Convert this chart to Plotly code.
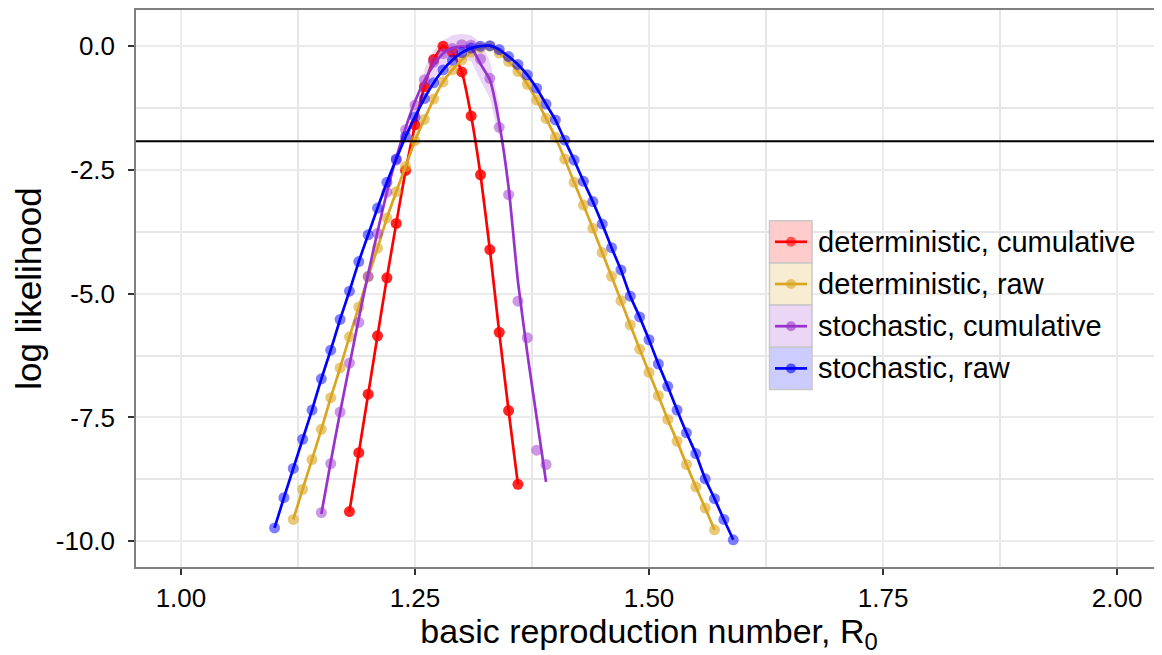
import plotly.graph_objects as go

# ---------------- data ----------------
series_names = ["deterministic, cumulative", "deterministic, raw",
                "stochastic, cumulative", "stochastic, raw"]
series_colors = ["#FF0000", "#DAA520", "#9932CC", "#0000FF"]
key_fills = ["#FFCCCC", "#F8EDD2", "#EBD6F5", "#CCCCFF"]

det_cum_x = [1.18, 1.19, 1.20, 1.21, 1.22, 1.23, 1.24, 1.25, 1.26, 1.27,
             1.28, 1.29, 1.30, 1.31, 1.32, 1.33, 1.34, 1.35, 1.36]
det_cum_y = [-9.40, -8.21, -7.03, -5.85, -4.68, -3.58, -2.51, -1.59, -0.82, -0.27,
             0.00, -0.12, -0.52, -1.41, -2.60, -4.11, -5.78, -7.36, -8.85]

det_raw_x = [1.12, 1.13, 1.14, 1.15, 1.16, 1.17, 1.18, 1.19, 1.20, 1.21,
             1.22, 1.23, 1.24, 1.25, 1.26, 1.27, 1.28, 1.29, 1.30, 1.31,
             1.32, 1.33, 1.34, 1.35, 1.36, 1.37, 1.38, 1.39, 1.40, 1.41,
             1.42, 1.43, 1.44, 1.45, 1.46, 1.47, 1.48, 1.49, 1.50, 1.51,
             1.52, 1.53, 1.54, 1.55, 1.56, 1.57]
det_raw_y = [-9.56, -8.95, -8.35, -7.74, -7.10, -6.50, -5.87, -5.27, -4.66, -4.08,
             -3.47, -2.94, -2.43, -1.91, -1.48, -1.07, -0.72, -0.48, -0.28, -0.12,
             -0.03, 0.00, -0.14, -0.31, -0.51, -0.77, -1.09, -1.46, -1.84, -2.28,
             -2.75, -3.21, -3.68, -4.17, -4.65, -5.14, -5.63, -6.12, -6.59, -7.06,
             -7.54, -7.98, -8.45, -8.90, -9.33, -9.77]

sto_cum_x = [1.15, 1.16, 1.17, 1.18, 1.19, 1.20, 1.21, 1.22, 1.23, 1.24,
             1.25, 1.26, 1.27, 1.28, 1.29, 1.30, 1.31, 1.32, 1.33, 1.34,
             1.35, 1.36, 1.37, 1.38, 1.39]
sto_cum_y = [-9.42, -8.43, -7.39, -6.40, -5.58, -4.65, -3.78, -2.95, -2.30, -1.69,
             -1.19, -0.68, -0.32, -0.15, -0.05, 0.03, 0.02, -0.26, -0.65, -1.64,
             -3.00, -5.15, -5.89, -8.16, -8.45]
# smoothed fit for the stochastic cumulative series
sto_cum_fit = [-9.45, -8.40, -7.40, -6.45, -5.50, -4.60, -3.75, -2.95, -2.25, -1.65,
               -1.12, -0.70, -0.38, -0.15, -0.04, -0.01, -0.03, -0.36, -0.68, -1.55,
               -2.85, -4.75, -6.20, -7.50, -8.80]
sto_cum_band_x = [1.26, 1.27, 1.28, 1.29, 1.30, 1.31, 1.32, 1.33, 1.34]
sto_cum_band_hi = [-0.45, -0.10, 0.12, 0.22, 0.25, 0.22, 0.08, -0.30, -1.20]
sto_cum_band_lo = [-0.95, -0.65, -0.42, -0.30, -0.27, -0.30, -0.70, -1.05, -1.85]

sto_raw_x = [1.10, 1.11, 1.12, 1.13, 1.14, 1.15, 1.16, 1.17, 1.18, 1.19,
             1.20, 1.21, 1.22, 1.23, 1.24, 1.25, 1.26, 1.27, 1.28, 1.29,
             1.30, 1.31, 1.32, 1.33, 1.34, 1.35, 1.36, 1.37, 1.38, 1.39,
             1.40, 1.41, 1.42, 1.43, 1.44, 1.45, 1.46, 1.47, 1.48, 1.49,
             1.50, 1.51, 1.52, 1.53, 1.54, 1.55, 1.56, 1.57, 1.58, 1.59]
sto_raw_y = [-9.73, -9.12, -8.53, -7.94, -7.35, -6.72, -6.14, -5.52, -4.95, -4.35,
             -3.81, -3.27, -2.75, -2.28, -1.83, -1.43, -1.06, -0.74, -0.48, -0.28,
             -0.13, -0.04, 0.00, 0.01, -0.07, -0.21, -0.37, -0.58, -0.85, -1.17,
             -1.49, -1.90, -2.30, -2.73, -3.14, -3.59, -4.07, -4.52, -5.05, -5.47,
             -5.93, -6.42, -6.87, -7.35, -7.81, -8.23, -8.74, -9.14, -9.56, -9.97]

cutoff = -1.92

x_ticks = [1.00, 1.25, 1.50, 1.75, 2.00]
x_tick_text = ["1.00", "1.25", "1.50", "1.75", "2.00"]
y_ticks = [-10.0, -7.5, -5.0, -2.5, 0.0]
y_tick_text = ["-10.0", "-7.5", "-5.0", "-2.5", "0.0"]

# ---------------- figure ----------------
FONT = "Liberation Sans, Arial, Helvetica, sans-serif"
OFF = 8                      # default page body margin of the html page
W, H = 1162 - OFF, 655 - OFF
ML, MR, MT, MB = 136 - OFF, 0, 10 - OFF, 88
PW, PH = W - ML - MR, H - MT - MB

fig = go.Figure()

# ribbon for stochastic cumulative
fig.add_trace(go.Scatter(
    x=sto_cum_band_x + sto_cum_band_x[::-1],
    y=sto_cum_band_hi + sto_cum_band_lo[::-1],
    fill="toself", fillcolor="rgba(153,50,204,0.2)",
    line=dict(width=0), mode="lines", hoverinfo="skip", showlegend=False))

line_sets = [
    (det_cum_x, det_cum_y, det_cum_y, 0.85),
    (det_raw_x, det_raw_y, det_raw_y, 0.6),
    (sto_cum_x, sto_cum_y, sto_cum_fit, 0.5),
    (sto_raw_x, sto_raw_y, sto_raw_y, 0.5),
]
for (xs, ys, fit, op), name, col in zip(line_sets, series_names, series_colors):
    fig.add_trace(go.Scatter(x=xs, y=ys, mode="markers", name=name,
                             marker=dict(color=col, size=11, opacity=op, line=dict(width=0)),
                             showlegend=False))
    fig.add_trace(go.Scatter(x=xs, y=fit, mode="lines", name=name,
                             line=dict(color=col, width=2.7, shape="spline", smoothing=0.5),
                             showlegend=False))

fig.add_hline(y=cutoff, line=dict(color="black", width=2))

# ---------------- manual legend (ggplot style) ----------------
# positions given in screen pixels of the 1162x655 page
def px2x(px):
    return (px - OFF - ML) / PW

def px2y(py):
    return (H - MB - (py - OFF)) / PH

shapes = [dict(type="rect", xref="paper", yref="paper",
               x0=px2x(760), x1=px2x(1162), y0=px2y(398), y1=px2y(176),
               fillcolor="white", line=dict(width=0), layer="above")]
key_top = 220.7
key_h = 42.2
for i, (name, col, fill) in enumerate(zip(series_names, series_colors, key_fills)):
    t = key_top + i * key_h
    b = t + key_h
    cy = (t + b) / 2
    shapes.append(dict(type="rect", xref="paper", yref="paper",
                       x0=px2x(769.5), x1=px2x(812), y0=px2y(b), y1=px2y(t),
                       fillcolor=fill, line=dict(color="#C8C8C8", width=1.5), layer="above"))
    shapes.append(dict(type="line", xref="paper", yref="paper",
                       x0=px2x(775), x1=px2x(807), y0=px2y(cy), y1=px2y(cy),
                       line=dict(color=col, width=2.7), layer="above"))
    shapes.append(dict(type="circle", xref="paper", yref="paper",
                       x0=px2x(786), x1=px2x(796), y0=px2y(cy + 5), y1=px2y(cy - 5),
                       fillcolor=col, opacity=0.6, line=dict(width=0), layer="above"))
    fig.add_annotation(x=px2x(816), y=px2y(cy), xref="paper", yref="paper",
                       text=name, showarrow=False, xanchor="left", yanchor="middle",
                       font=dict(family=FONT, size=29, color="black"))

axis_common = dict(
    showline=True, mirror=True, linecolor="#7F7F7F", linewidth=1.5,
    ticks="outside", ticklen=6, tickwidth=1.5, tickcolor="#333333",
    showgrid=True, gridcolor="#EBEBEB", gridwidth=1.5, zeroline=False,
    tickfont=dict(family=FONT, size=26, color="black"),
    automargin=False,
)

fig.update_layout(
    width=W, height=H,
    margin=dict(l=ML, r=MR, t=MT, b=MB),
    paper_bgcolor="white", plot_bgcolor="white",
    font=dict(family=FONT, color="black"),
    shapes=shapes,
    showlegend=False,
    xaxis=dict(range=[0.952, 2.048], tickvals=x_ticks, ticktext=x_tick_text,
               minor=dict(dtick=0.125, tick0=1.0, showgrid=True, gridcolor="#E6E6E6",
                          gridwidth=2.4, ticks=""),
               title=dict(text="basic reproduction number, R<sub>0</sub>",
                          font=dict(family=FONT, size=34, color="black"), standoff=9),
               ticklabelstandoff=1,
               **axis_common),
    yaxis=dict(range=[-10.52, 0.73], tickvals=y_ticks, ticktext=y_tick_text,
               minor=dict(dtick=1.25, tick0=0.0, showgrid=True, gridcolor="#E6E6E6",
                          gridwidth=2.4, ticks=""),
               title=dict(text="log likelihood",
                          font=dict(family=FONT, size=35, color="black"), standoff=4),
               ticklabelstandoff=8,
               **axis_common),
)

fig.write_html("out.html")
